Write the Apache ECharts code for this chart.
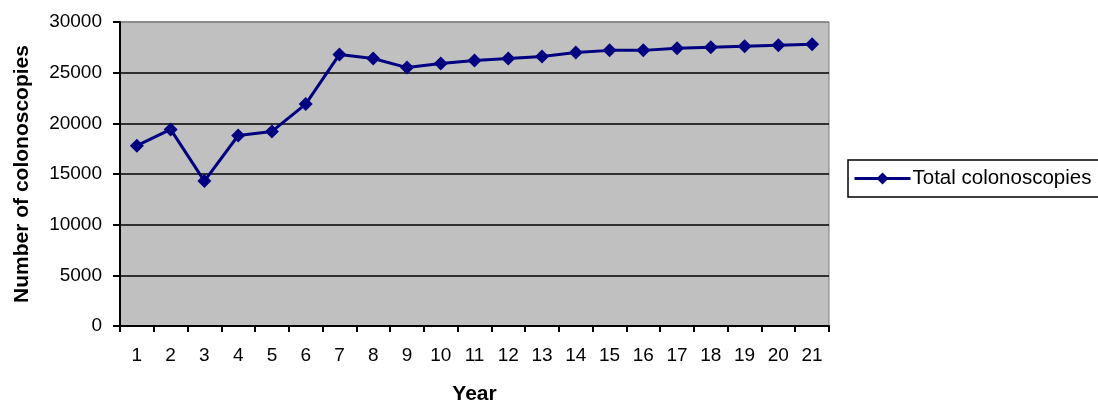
<!DOCTYPE html>
<html>
<head>
<meta charset="utf-8">
<script src="https://cdn.jsdelivr.net/npm/echarts@6/dist/echarts.min.js"></script>
<style>
html,body{margin:0;padding:0;background:#fff;}
#chart{width:1098px;height:405px;}
</style>
</head>
<body>
<div id="chart"></div>
<script>
// Years on the x axis
const years = ['1','2','3','4','5','6','7','8','9','10','11','12','13','14','15','16','17','18','19','20','21'];
// Total colonoscopies per year
const totalColonoscopies = [17800, 19400, 14300, 18800, 19200, 21900, 26800, 26400, 25500, 25900, 26200,
  26400, 26600, 27000, 27200, 27200, 27400, 27500, 27600, 27700, 27800];
const seriesName = 'Total colonoscopies';

const chart = echarts.init(document.getElementById('chart'));
const font = 'Liberation Sans, Arial, sans-serif';

chart.setOption({
  animation: false,
  backgroundColor: '#ffffff',
  grid: {
    left: 120, right: 269, top: 22, bottom: 79,
    outerBoundsMode: 'none',
    containLabel: false,
    show: true, backgroundColor: '#C0C0C0', borderColor: '#808080', borderWidth: 1
  },
  legend: {
    data: [seriesName],
    left: 848, top: 160,
    orient: 'vertical',
    borderColor: '#000', borderWidth: 1.5,
    padding: [8, 12, 8, 5],
    itemWidth: 56, itemHeight: 15, itemGap: 0,
    lineStyle: { width: 3 },
    textStyle: { fontFamily: font, fontSize: 20.5, color: '#000', padding: [0, 0, 0, -3] }
  },
  xAxis: {
    type: 'category',
    data: years,
    boundaryGap: true,
    name: 'Year',
    nameLocation: 'middle',
    nameGap: 58,
    nameTextStyle: { fontFamily: font, fontSize: 21, fontWeight: 'bold', color: '#000' },
    axisLine: { lineStyle: { color: '#000', width: 2 } },
    axisTick: { show: true, alignWithLabel: false, length: 6, lineStyle: { color: '#000', width: 2 } },
    axisLabel: { fontFamily: font, fontSize: 19, color: '#000', margin: 20 },
    splitLine: { show: false }
  },
  yAxis: {
    type: 'value',
    min: 0, max: 30000, interval: 5000,
    name: 'Number of colonoscopies',
    nameLocation: 'middle',
    nameGap: 87,
    nameTextStyle: { fontFamily: font, fontSize: 21, fontWeight: 'bold', color: '#000' },
    axisLine: { show: true, lineStyle: { color: '#000', width: 2 } },
    axisTick: { show: true, length: 7, lineStyle: { color: '#000', width: 2 } },
    axisLabel: { fontFamily: font, fontSize: 19, color: '#000', margin: 18, formatter: v => String(v) },
    splitLine: {
      show: true,
      lineStyle: {
        // top line is the grey plot border
        color: ['#000', '#000', '#000', '#000', '#000', '#000', '#808080'],
        width: 1.5
      }
    }
  },
  series: [{
    name: seriesName,
    type: 'line',
    data: totalColonoscopies,
    symbol: 'diamond',
    symbolSize: 14,
    lineStyle: { color: '#000080', width: 3 },
    itemStyle: { color: '#000080' }
  }]
});
</script>
</body>
</html>
